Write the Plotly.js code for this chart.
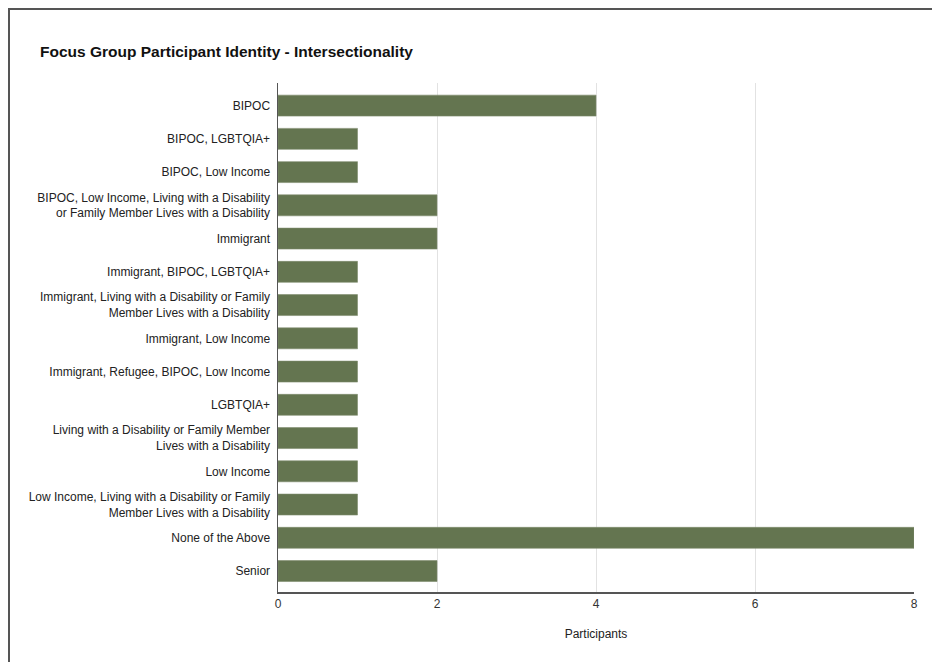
<!DOCTYPE html>
<html>
<head>
<meta charset="utf-8">
<script src="https://cdn.plot.ly/plotly-3.0.1.min.js"></script>
<style>
html,body{margin:0;padding:0;background:#fff;}
#wrap{position:relative;width:932px;height:662px;overflow:hidden;}
#chart{position:absolute;left:0;top:0;width:932px;height:662px;}
#frame{position:absolute;left:8px;top:8px;width:930px;height:660px;border-top:2px solid #555;border-left:2px solid #555;pointer-events:none;}
</style>
</head>
<body>
<div id="wrap"><div id="chart"></div><div id="frame"></div></div>
<script>
const categories = [
  "BIPOC",
  "BIPOC, LGBTQIA+",
  "BIPOC, Low Income",
  "BIPOC, Low Income, Living with a Disability<br>or Family Member Lives with a Disability",
  "Immigrant",
  "Immigrant, BIPOC, LGBTQIA+",
  "Immigrant, Living with a Disability or Family<br>Member Lives with a Disability",
  "Immigrant, Low Income",
  "Immigrant, Refugee, BIPOC, Low Income",
  "LGBTQIA+",
  "Living with a Disability or Family Member<br>Lives with a Disability",
  "Low Income",
  "Low Income, Living with a Disability or Family<br>Member Lives with a Disability",
  "None of the Above",
  "Senior"
];
const participants = [4, 1, 1, 2, 2, 1, 1, 1, 1, 1, 1, 1, 1, 8, 2];
const xTicks = [0, 2, 4, 6, 8];

Plotly.newPlot('chart', [{
  type: 'bar',
  orientation: 'h',
  y: categories,
  x: participants,
  marker: {color: '#647550', line: {color: '#7d8b6c', width: 0.6}},
  hoverinfo: 'x+y'
}], {
  width: 932, height: 662,
  paper_bgcolor: '#fff', plot_bgcolor: '#fff',
  margin: {l: 278, r: 18, t: 83, b: 70},
  font: {family: 'Liberation Sans, Arial, sans-serif', size: 12, color: '#222'},
  title: {text: '<b>Focus Group Participant Identity - Intersectionality</b>',
          x: 40/932, xanchor: 'left', xref: 'container', y: 1 - 52/662, yanchor: 'middle', yref: 'container',
          font: {size: 15.5, color: '#111', family: 'Liberation Sans, Arial, sans-serif'}},
  bargap: 0.37,
  showlegend: false,
  xaxis: {
    range: [0, 8], tickvals: xTicks, ticktext: xTicks.map(String),
    showgrid: true, gridcolor: '#e2e2e2', gridwidth: 1,
    zeroline: false, showline: true, linecolor: '#555', linewidth: 1.5,
    ticks: '', tickfont: {size: 12, color: '#333'},
    title: {text: 'Participants', font: {size: 12, color: '#222'}, standoff: 19}
  },
  yaxis: {
    range: [14.63, -0.68], showgrid: false, zeroline: false,
    showline: true, linecolor: '#555', linewidth: 1.5,
    ticks: '', tickfont: {size: 12, color: '#222'}, ticklabelstandoff: 4
  }
}, {displayModeBar: false, staticPlot: true});
</script>
</body>
</html>
